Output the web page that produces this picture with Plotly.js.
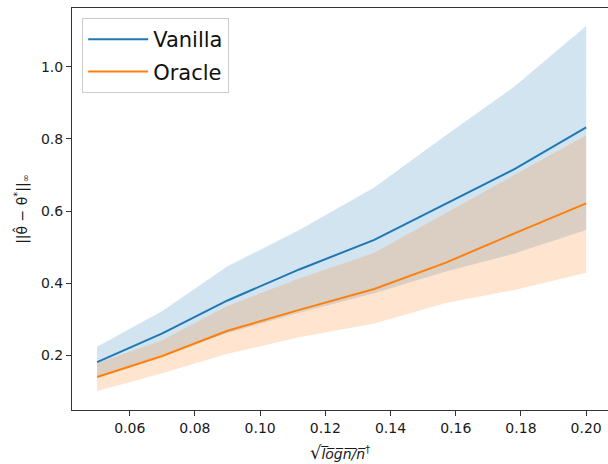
<!DOCTYPE html>
<html>
<head>
<meta charset="utf-8">
<script src="https://cdn.plot.ly/plotly-3.0.1.min.js"></script>
<style>html,body{margin:0;padding:0;overflow:hidden;background:#fff;}</style>
</head>
<body>
<div id="chart" style="width:608px;height:464px;"></div>
<script>
const xVals = [0.05, 0.07, 0.09, 0.112, 0.135, 0.157, 0.178, 0.2];
const vanillaMean  = [0.181, 0.261, 0.352, 0.438, 0.520, 0.621, 0.716, 0.832];
const vanillaUpper = [0.224, 0.323, 0.447, 0.547, 0.665, 0.810, 0.945, 1.113];
const vanillaLower = [0.140, 0.200, 0.262, 0.318, 0.372, 0.432, 0.482, 0.547];
const oracleMean   = [0.140, 0.198, 0.268, 0.326, 0.384, 0.457, 0.538, 0.621];
const oracleUpper  = [0.178, 0.242, 0.337, 0.413, 0.484, 0.594, 0.700, 0.810];
const oracleLower  = [0.101, 0.150, 0.204, 0.250, 0.288, 0.345, 0.381, 0.429];
const seriesNames = ["Vanilla", "Oracle"];
const xTicks = [0.06, 0.08, 0.10, 0.12, 0.14, 0.16, 0.18, 0.20];
const yTicks = [0.2, 0.4, 0.6, 0.8, 1.0];

const blue = '#1f77b4', orange = '#ff7f0e';
const blueFill = 'rgba(31,119,180,0.2)', orangeFill = 'rgba(255,127,14,0.2)';

function band(upper, lower, fill) {
  return [
    {x: xVals, y: upper, mode: 'lines', line: {width: 0, color: fill}, showlegend: false, hoverinfo: 'skip'},
    {x: xVals, y: lower, mode: 'lines', line: {width: 0, color: fill}, fill: 'tonexty', fillcolor: fill, showlegend: false, hoverinfo: 'skip'}
  ];
}

const traces = [
  ...band(vanillaUpper, vanillaLower, blueFill),
  ...band(oracleUpper, oracleLower, orangeFill),
  {x: xVals, y: vanillaMean, mode: 'lines', name: seriesNames[0], legendgroup: 'g1', legendrank: 1, line: {color: blue, width: 2}},
  {x: xVals, y: oracleMean, mode: 'lines', name: seriesNames[1], legendgroup: 'g2', legendrank: 2, line: {color: orange, width: 2}}
];

const tickFont = {family: 'DejaVu Sans', size: 14, color: '#1a1a1a'};

const layout = {
  width: 608, height: 464,
  margin: {l: 72, r: 0, t: 8, b: 54},
  paper_bgcolor: '#fff', plot_bgcolor: '#fff',
  font: {family: 'DejaVu Sans', color: '#1a1a1a'},
  showlegend: true,
  legend: {
    x: 0.019, y: 0.975, xanchor: 'left', yanchor: 'top',
    traceorder: 'grouped',
    itemwidth: 60,
    bgcolor: 'rgba(255,255,255,0.8)', bordercolor: '#cccccc', borderwidth: 1,
    font: {family: 'DejaVu Sans', size: 21, color: '#111'},
    tracegroupgap: 2
  },
  xaxis: {
    range: [0.0423, 0.2067],
    tickvals: xTicks, tickformat: '.2f',
    ticks: 'outside', ticklen: 5, tickwidth: 1, tickcolor: '#333',
    showline: true, linecolor: '#333', linewidth: 1, mirror: true,
    showgrid: false, zeroline: false,
    tickfont: tickFont,
    title: {text: "<span style='font-size:18px'>√</span><i>l̅o̅g̅n̅/̅n̅</i><sup>†</sup>", font: {family: 'DejaVu Sans', size: 14, color: '#1a1a1a'}, standoff: 14}
  },
  yaxis: {
    range: [0.0484, 1.1627],
    tickvals: yTicks, tickformat: '.1f',
    ticks: 'outside', ticklen: 5, tickwidth: 1, tickcolor: '#333',
    showline: true, linecolor: '#333', linewidth: 1, mirror: false,
    showgrid: false, zeroline: false,
    tickfont: tickFont,
    title: {text: "||θ̂ − θ<sup>*</sup>||<sub>∞</sub>", font: {family: 'DejaVu Sans', size: 14, color: '#1a1a1a'}, standoff: 10}
  }
};

Plotly.newPlot('chart', traces, layout, {displayModeBar: false, staticPlot: true});
</script>
</body>
</html>
